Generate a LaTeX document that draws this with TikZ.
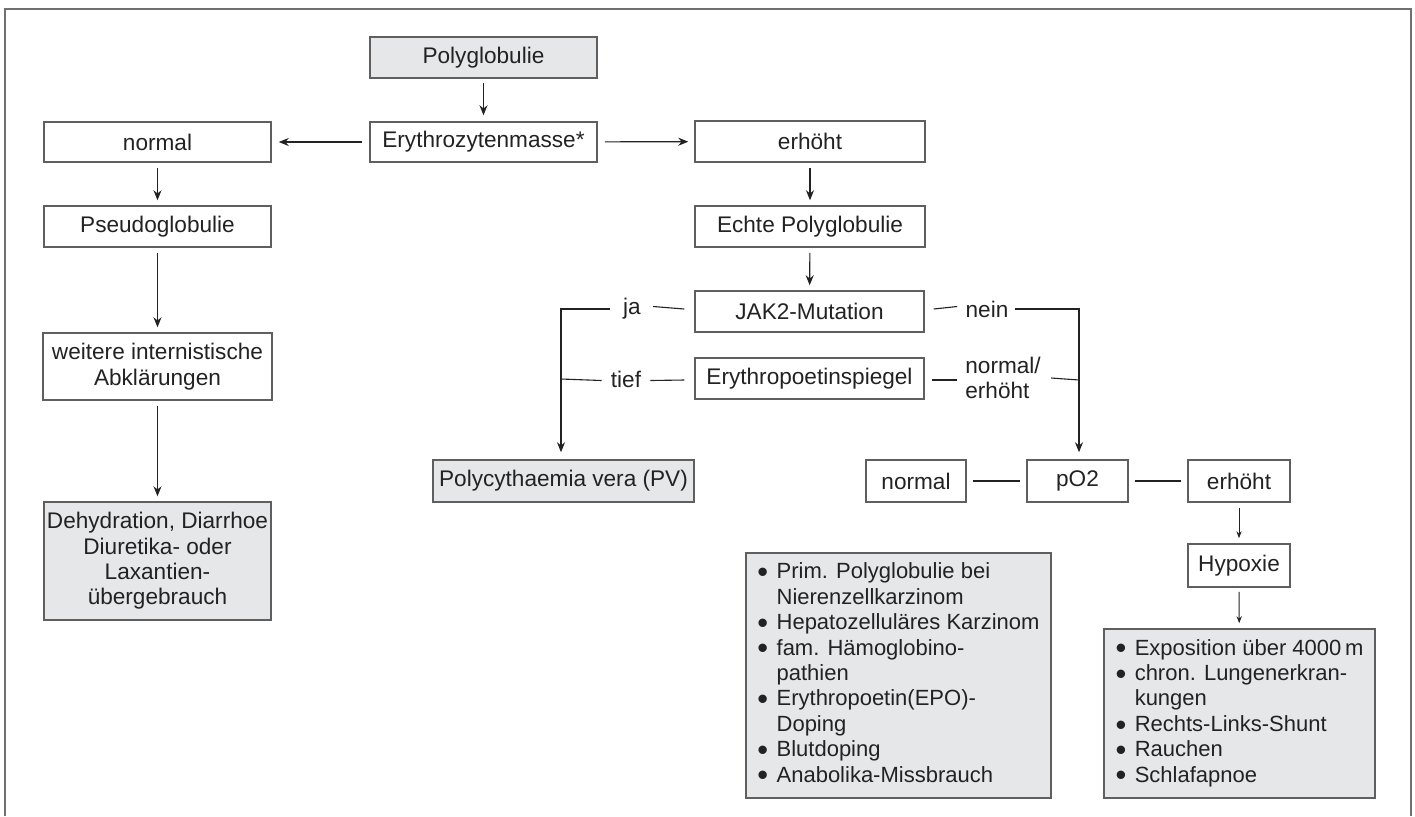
\documentclass[tikz,border=0pt]{standalone}
\usepackage{fontspec}
\usepackage{graphicx}
\setmainfont{Liberation Sans}
\usetikzlibrary{arrows.meta,calc}
\definecolor{boxfill}{HTML}{E6E7E8}
\definecolor{boxline}{HTML}{5F5F5F}
\definecolor{framegray}{HTML}{707070}
\definecolor{ink}{HTML}{222222}
\newcommand{\bul}{\smash{\raisebox{-0.17em}{\scalebox{1.4}{\textbullet}}}}
\begin{document}
\begin{tikzpicture}[x=0.5pt,y=-0.5pt,
  txt/.style={font=\fontsize{11.3pt}{12.7pt}\selectfont, text=ink},
  box/.style={txt, draw=boxline, line width=0.75pt, inner sep=0pt, align=center},
  grey/.style={box, fill=boxfill},
  listbox/.style={grey, font=\fontsize{11pt}{12.7pt}\selectfont},
  bw/.style={minimum width=#1*0.5pt},
  bh/.style={minimum height=#1*0.5pt},
  arr/.style={line width=0.55pt, ink, -{Stealth[length=5pt,width=4pt]}},
  sarr/.style={line width=0.5pt, ink, -{Stealth[length=3.5pt,width=2.6pt]}},
  conn/.style={line width=0.55pt, ink},
  lbl/.style={txt, inner sep=0pt}
]
\useasboundingbox (0,0) rectangle (1415,816);
% outer frame (open at bottom)
\draw[framegray, line width=0.8pt] (5,816) -- (5,9) -- (1411,9) -- (1411,816);

% nodes
\node[grey, bw=227, bh=41] (poly)   at (483.5,57.5) {Polyglobulie};
\node[box,  bw=227, bh=40] (ery)    at (483.5,142) {Erythrozytenmasse*};
\node[box,  bw=227, bh=40] (norm)   at (157.5,142) {normal};
\node[box,  bw=230, bh=41] (erh)    at (810,141.5) {erhöht};
\node[box,  bw=227, bh=41] (pseudo) at (157.5,226.5) {Pseudoglobulie};
\node[box,  bw=230, bh=41] (echte)  at (810,226.5) {Echte Polyglobulie};
\node[box,  bw=229, bh=67] (weit)   at (157.5,366.5) {weitere internistische\\Abklärungen};
\node[grey, bw=227, bh=118] (dehyd) at (157.5,561) {Dehydration, Diarrhoe\\Diuretika- oder\\Laxantien-\\übergebrauch};
\node[box,  bw=229, bh=41] (jak)    at (809.5,311.5) {JAK2-Mutation};
\node[box,  bw=229, bh=41] (epo)    at (809.5,378.5) {Erythropoetinspiegel};
\node[grey, bw=261, bh=42] (pv)     at (563.5,481) {Polycythaemia vera (PV)};
\node[box,  bw=100, bh=42] (n2)     at (916,481) {normal};
\node[box,  bw=101, bh=42] (po2)    at (1077.5,481) {pO2};
\node[box,  bw=102, bh=42] (e2)     at (1239,481) {erhöht};
\node[box,  bw=102, bh=43] (hyp)    at (1239,565.5) {Hypoxie};
\node[listbox, bw=305, bh=245] (list1) at (898.5,675.5) {%
  \begin{tabular}{@{}l@{\hspace{4.2pt}}l@{}}
  \bul & Prim. Polyglobulie bei\\
       & Nierenzellkarzinom\\
  \bul & Hepatozelluläres Karzinom\\
  \bul & fam. Hämoglobino-\\
       & pathien\\
  \bul & Erythropoetin(EPO)-\\
       & Doping\\
  \bul & Blutdoping\\
  \bul & Anabolika-Missbrauch
  \end{tabular}};
\node[listbox, bw=271, bh=169] (list2) at (1239.5,713.5) {%
  \begin{tabular}{@{}l@{\hspace{4.2pt}}l@{}}
  \bul & Exposition über 4000\,m\\
  \bul & chron. Lungenerkran-\\
       & kungen\\
  \bul & Rechts-Links-Shunt\\
  \bul & Rauchen\\
  \bul & Schlafapnoe
  \end{tabular}};

% branch labels
\node[lbl] (ja)   at (632,309) {ja};
\node[lbl] (tief) at (626,379) {tief};
\node[lbl] (nein) at (987,309) {nein};
\node[lbl, align=left, anchor=west] (ne) at (965,378) {normal/\\erhöht};
\coordinate (jaC)   at (561,309);
\coordinate (neinC) at (1079,309);
\coordinate (neC)   at (1079,380);

% arrows
\draw[arr, shorten <=2pt, shorten >=3pt] (poly) -- (ery);
\draw[arr, shorten <=3.5pt, shorten >=3.5pt] (ery) -- (norm);
\draw[arr, shorten <=3.5pt, shorten >=3pt] (ery) -- (erh);
\draw[arr, shorten <=2.5pt, shorten >=2.5pt] (norm) -- (pseudo);
\draw[arr, shorten <=2.5pt, shorten >=2.5pt] (pseudo) -- (weit);
\draw[arr, shorten <=2.5pt, shorten >=2.5pt] (weit) -- (dehyd);
\draw[arr, shorten <=2.5pt, shorten >=2.5pt] (erh) -- (echte);
\draw[arr, shorten <=2.5pt, shorten >=2.5pt] (echte) -- (jak);

% JAK2 / EPO branches
\draw[conn] ($(jak.west)+(-10,-2.5)$) -- ($(ja.east)+(12,-2.5)$);
\draw[arr, shorten >=3.5pt] ($(ja.west)+(-13,0)$) -- (jaC) -- (jaC |- pv.north);
\draw[conn] ($(epo.west)+(-10,1.5)$) -- ($(tief.east)+(9,1.5)$);
\draw[conn] ($(tief.west)+(-9,1.5)$) -- (jaC |- tief.west);
\draw[conn] ($(jak.east)+(9,-2.5)$) -- ($(nein.west)+(-8,-2.5)$);
\draw[arr, shorten >=3.5pt] ($(nein.east)+(6,0)$) -- (neinC) -- (neinC |- po2.north);
\draw[conn] ($(epo.east)+(7,1.5)$) -- ($(epo.east)+(32,1.5)$);
\draw[conn] ($(ne.east)+(10,0)$) -- (neC);

% pO2 row
\draw[conn, shorten <=3pt, shorten >=3pt] (n2) -- (po2);
\draw[conn, shorten <=3pt, shorten >=3pt] (po2) -- (e2);
\draw[sarr, shorten <=2.5pt, shorten >=2.5pt] (e2) -- (hyp);
\draw[sarr, shorten <=2pt, shorten >=2.5pt] (hyp) -- (list2);
\end{tikzpicture}
\end{document}
